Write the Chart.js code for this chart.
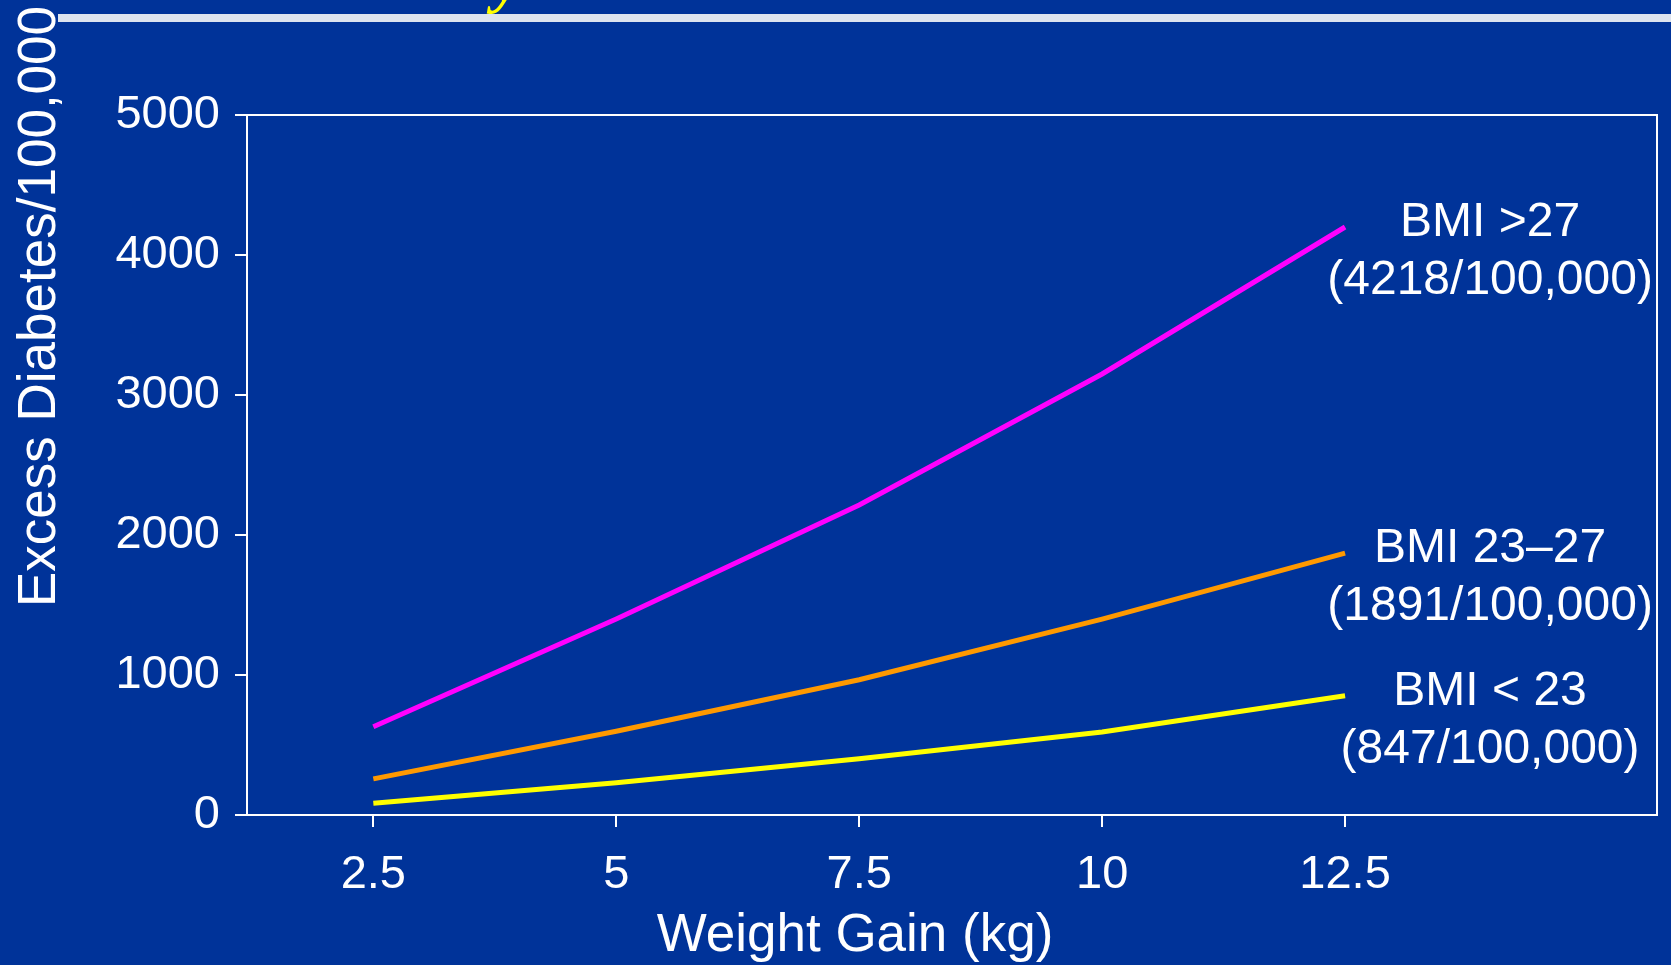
<!DOCTYPE html>
<html>
<head>
<meta charset="utf-8">
<script src="https://cdn.jsdelivr.net/npm/chart.js@4/dist/chart.umd.min.js"></script>
<style>
  html, body { margin: 0; padding: 0; background: #003399; overflow: hidden; }
  #wrap { position: relative; width: 1671px; height: 965px; }
  #rule { position: absolute; left: 58px; top: 14px; width: 1613px; height: 8px; background: #dde4ef; }
  canvas { position: absolute; left: 0; top: 0; }
</style>
</head>
<body>
<div id="wrap">
  <div id="rule"></div>
  <canvas id="c" width="1671" height="965"></canvas>
</div>
<script>
// ---- data ----
const weightGain = [2.5, 5, 7.5, 10, 12.5];
const xTickValues = [2.5, 5, 7.5, 10, 12.5];
const yTickValues = [0, 1000, 2000, 3000, 4000, 5000];
const bmiOver27 = [630, 1400, 2215, 3150, 4200];
const bmi23to27 = [258, 598, 966, 1399, 1870];
const bmiUnder23 = [84, 230, 401, 593, 852];
const seriesNames = ['BMI >27', 'BMI 23\u201327', 'BMI < 23'];
const seriesRates = ['(4218/100,000)', '(1891/100,000)', '(847/100,000)'];
const seriesColors = ['#ff00ff', '#ff9900', '#ffff00'];
const xTitle = 'Weight Gain (kg)';
const yTitle = 'Excess Diabetes/100,000';
const titleFragment = 'y';

const seriesValues = [bmiOver27, bmi23to27, bmiUnder23];
const FONT = '"Liberation Sans", Arial, sans-serif';

const decorPlugin = {
  id: 'decor',
  afterDraw(chart) {
    const ctx = chart.ctx;
    const a = chart.chartArea;
    ctx.save();
    // plot frame (top & right edges completing the box)
    ctx.strokeStyle = '#ffffff';
    ctx.lineWidth = 2;
    ctx.beginPath();
    ctx.moveTo(a.left, a.top);
    ctx.lineTo(a.right, a.top);
    ctx.lineTo(a.right, a.bottom);
    ctx.stroke();

    // series labels at the end of each line
    ctx.fillStyle = '#ffffff';
    ctx.font = '48px ' + FONT;
    ctx.textAlign = 'center';
    ctx.textBaseline = 'alphabetic';
    chart.data.datasets.forEach((ds, i) => {
      const meta = chart.getDatasetMeta(i);
      const last = meta.data[meta.data.length - 1];
      const cx = last.x + 145;
      const base = last.y + 9;
      ctx.fillText(seriesNames[i], cx, base);
      ctx.fillText(seriesRates[i], cx, base + 58);
    });

    // x axis title
    ctx.font = '53px ' + FONT;
    ctx.textAlign = 'center';
    ctx.fillText(xTitle, 855, 951);

    // y axis title (rotated)
    ctx.save();
    ctx.translate(55, 607);
    ctx.rotate(-Math.PI / 2);
    ctx.textAlign = 'left';
    ctx.fillText(yTitle, 0, 0);
    ctx.restore();

    // cut-off title fragment at the very top
    ctx.fillStyle = '#ffff00';
    ctx.font = 'italic bold 62px "Liberation Serif", "Times New Roman", serif';
    ctx.textAlign = 'left';
    ctx.fillText(titleFragment, 493, 1);
    ctx.restore();
  }
};

const datasets = seriesValues.map((vals, i) => ({
  label: seriesNames[i],
  data: weightGain.map((x, j) => ({ x: x, y: vals[j] })),
  borderColor: seriesColors[i],
  backgroundColor: seriesColors[i],
  borderWidth: 5,
  pointRadius: 0,
  tension: 0,
  fill: false
}));

new Chart(document.getElementById('c'), {
  type: 'line',
  data: { datasets },
  options: {
    responsive: false,
    animation: false,
    devicePixelRatio: 1,
    layout: { padding: { top: 115, right: 14, left: 0, bottom: 0 } },
    plugins: { legend: { display: false }, tooltip: { enabled: false }, title: { display: false } },
    scales: {
      x: {
        type: 'linear',
        min: 1.2,
        max: 15.71,
        afterBuildTicks: (s) => { s.ticks = xTickValues.map(v => ({ value: v })); },
        afterFit: (s) => { s.height = 150; },
        ticks: {
          color: '#ffffff',
          font: { family: FONT, size: 47 },
          padding: 20,
          autoSkip: false,
          maxRotation: 0,
          callback: (v) => String(v)
        },
        grid: { drawOnChartArea: false, drawTicks: true, tickLength: 12, color: '#ffffff', lineWidth: 2 },
        border: { display: true, color: '#ffffff', width: 2 }
      },
      y: {
        min: 0,
        max: 5000,
        afterBuildTicks: (s) => { s.ticks = yTickValues.map(v => ({ value: v })); },
        afterFit: (s) => { s.width = 247; },
        ticks: {
          color: '#ffffff',
          font: { family: FONT, size: 47 },
          padding: 15,
          callback: (v) => String(v)
        },
        grid: { drawOnChartArea: false, drawTicks: true, tickLength: 12, color: '#ffffff', lineWidth: 2 },
        border: { display: true, color: '#ffffff', width: 2 }
      }
    }
  },
  plugins: [decorPlugin]
});
</script>
</body>
</html>
